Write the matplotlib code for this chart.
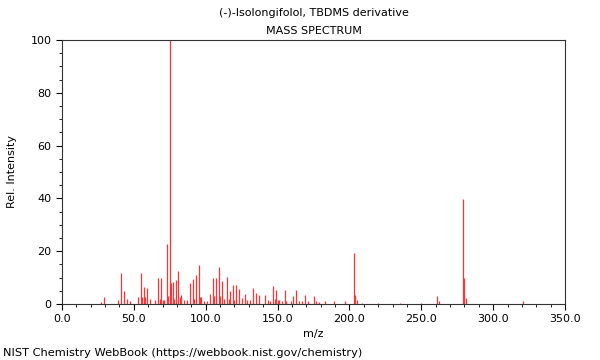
import matplotlib
matplotlib.use("Agg")
import matplotlib.pyplot as plt
from matplotlib.ticker import MultipleLocator

# peak list (m/z, relative intensity)
mz = [27, 29, 39, 41, 43, 45, 47, 53, 55, 56, 57, 58, 59, 61, 65, 67, 68, 69,
      70, 71, 73, 74, 75, 76, 77, 78, 79, 81, 82, 83, 85, 87, 89, 91, 92, 93,
      95, 96, 97, 99, 101, 103, 105, 106, 107, 109, 110, 111, 113, 115, 116,
      117, 119, 120, 121, 123, 125, 127, 129, 131, 133, 135, 137, 141, 143,
      145, 147, 148, 149, 150, 151, 153, 155, 156, 159, 161, 163, 165, 167,
      169, 171, 175, 177, 179, 183, 189, 197, 203, 204, 205, 209, 220, 235,
      250, 261, 262, 279, 280, 281, 321]
intensity = [0.9, 2.6, 1.6, 11.6, 4.9, 1.9, 1.2, 2.8, 11.7, 2.5, 6.4, 2.5, 6.0,
             1.8, 1.5, 9.8, 2.0, 9.8, 1.5, 1.5, 22.6, 3.0, 100, 7.8, 8.2, 2.0,
             9.0, 12.5, 2.5, 3.3, 1.5, 1.5, 8.1, 9.3, 2.0, 11.0, 14.6, 2.5, 2.8,
             1.0, 1.2, 3.7, 9.8, 3.0, 9.8, 13.9, 3.0, 8.6, 2.0, 10.2, 2.0, 4.9,
             7.3, 1.5, 7.3, 5.7, 2.4, 3.8, 1.5, 1.5, 6.1, 4.0, 3.4, 3.5, 1.5,
             1.0, 6.8, 2.0, 5.3, 1.5, 1.5, 1.0, 5.2, 1.0, 1.0, 3.2, 5.2, 1.0,
             1.0, 3.4, 1.0, 3.0, 1.0, 0.8, 1.1, 1.1, 1.1, 19.4, 3.4, 1.5, 0.5,
             0.5, 0.5, 0.5, 3.0, 1.0, 39.8, 9.7, 2.4, 1.0]

fig = plt.figure(figsize=(6, 3.6), dpi=100)
ax = fig.add_axes([0.1033, 0.1556, 0.8384, 0.7333])
ax.vlines(mz, 0, intensity, color="#ff3333", lw=0.9)

ax.set_xlim(0, 350)
ax.set_ylim(0, 100)
ax.xaxis.set_major_locator(MultipleLocator(50))
ax.xaxis.set_minor_locator(MultipleLocator(10))
ax.yaxis.set_major_locator(MultipleLocator(20))
ax.yaxis.set_minor_locator(MultipleLocator(5))
ax.xaxis.set_major_formatter(plt.FuncFormatter(lambda v, p: f"{v:.1f}"))
ax.tick_params(labelsize=8, length=4, width=0.8)
ax.tick_params(which="minor", length=2.5, width=0.6)
for s in ax.spines.values():
    s.set_linewidth(0.8)
    s.set_color("#333333")

ax.set_xlabel("m/z", fontsize=8, labelpad=3)
ax.set_ylabel("Rel. Intensity", fontsize=8, labelpad=10)
fig.text(0.523, 0.963, "(-)-Isolongifolol, TBDMS derivative", ha="center",
         va="center", fontsize=8)
fig.text(0.523, 0.915, "MASS SPECTRUM", ha="center", va="center", fontsize=8)
fig.text(0.005, 0.02, "NIST Chemistry WebBook (https://webbook.nist.gov/chemistry)",
         ha="left", va="center", fontsize=8.2)

fig.savefig("out.png", dpi=100)
